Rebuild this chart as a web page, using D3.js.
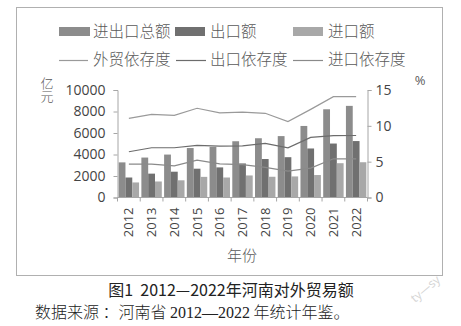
<!DOCTYPE html>
<html>
<head>
<meta charset="utf-8">
<script src="https://cdn.jsdelivr.net/npm/d3@7"></script>
<style>
  html, body { margin: 0; padding: 0; background: #fff; }
  svg { display: block; }
  text { font-family: "Noto Sans CJK SC", "Open Sans", sans-serif; }
</style>
</head>
<body>
<svg id="chart" width="461" height="326"></svg>
<script>
// ---- data ----
const years = ["2012","2013","2014","2015","2016","2017","2018","2019","2020","2021","2022"];
const totalTrade = [3267, 3715, 3994, 4600, 4714, 5233, 5512, 5711, 6655, 8208, 8524];
const exportTrade = [1860, 2220, 2400, 2680, 2800, 3170, 3580, 3750, 4560, 5020, 5250];
const importTrade = [1400, 1490, 1600, 1920, 1860, 2050, 1930, 1960, 2090, 3190, 3280];
const tradeDep = [11.05, 11.6, 11.45, 12.45, 11.8, 11.9, 11.75, 10.6, 12.3, 14.07, 14.07];
const exportDep = [6.38, 6.94, 6.94, 7.27, 7.17, 7.2, 7.55, 6.94, 8.39, 8.62, 8.65];
const importDep = [4.66, 4.66, 4.42, 5.22, 4.7, 4.6, 4.2, 3.68, 4.1, 5.4, 5.4];
const leftTicks = [0, 2000, 4000, 6000, 8000, 10000];
const rightTicks = [0, 5, 10, 15];
const barSeries = ["进出口总额", "出口额", "进口额"];
const lineSeries = ["外贸依存度", "出口依存度", "进口依存度"];

const barColors = ["#8c8c8c", "#707070", "#a8a8a8"];
const lineColors = ["#9a9a9a", "#6c6c6c", "#8a8a8a"];
const axisColor = "#a6a6a6";
const textColor = "#5a5a5a";

const svg = d3.select("#chart");

// frame
svg.append("rect").attr("x", 16.5).attr("y", 7.5).attr("width", 426).attr("height", 268)
  .attr("fill", "none").attr("stroke", "#b0b0b0").attr("stroke-width", 1);

const x0 = d3.scaleBand().domain(years).range([117.5, 367.5]).paddingInner(0).paddingOuter(0);
const x1 = d3.scaleBand().domain([0,1,2]).range([0, x0.bandwidth()]).paddingInner(0).paddingOuter(0.17);
const yL = d3.scaleLinear().domain([0, 10000]).range([197.5, 90]);
const yR = d3.scaleLinear().domain([0, 15]).range([197.5, 90]);

// bars
const barData = [totalTrade, exportTrade, importTrade];
const g = svg.append("g");
years.forEach((yr, i) => {
  barData.forEach((arr, s) => {
    g.append("rect")
      .attr("x", x0(yr) + x1(s))
      .attr("y", yL(arr[i]))
      .attr("width", x1.bandwidth())
      .attr("height", yL(0) - yL(arr[i]))
      .attr("fill", barColors[s]);
  });
});

// lines
const lineData = [tradeDep, exportDep, importDep];
const lineGen = d3.line().x((d, i) => x0(years[i]) + x0.bandwidth() / 2).y(d => yR(d));
lineData.forEach((arr, s) => {
  svg.append("path").attr("d", lineGen(arr)).attr("fill", "none")
    .attr("stroke", lineColors[s]).attr("stroke-width", 1.2);
});

// axes
const styleAxis = (sel) => {
  sel.selectAll("path, line").attr("stroke", axisColor);
  sel.selectAll("text").attr("fill", "#444").style("font-family", "'Open Sans', sans-serif");
};
svg.append("g").attr("transform", "translate(117.5,0)")
  .call(d3.axisLeft(yL).tickValues(leftTicks).tickSize(4).tickSizeOuter(4).tickFormat(d3.format("d")).tickPadding(8))
  .call(styleAxis)
  .call(s => s.selectAll("text").style("font-size", "14px"));

svg.append("g").attr("transform", "translate(367.5,0)")
  .call(d3.axisRight(yR).tickValues(rightTicks).tickSize(4).tickSizeOuter(4).tickPadding(4))
  .call(styleAxis)
  .call(s => s.selectAll("text").style("font-size", "14px"));

// bottom axis with ticks at band boundaries
const bx = svg.append("g").attr("transform", "translate(0,197.5)");
bx.append("line").attr("x1", 117.5).attr("x2", 367.5).attr("stroke", axisColor);
years.concat(["end"]).forEach((yr, i) => {
  const xp = i < years.length ? x0(yr) : x0.range()[1];
  bx.append("line").attr("x1", xp).attr("x2", xp).attr("y1", 0).attr("y2", 4).attr("stroke", axisColor);
});
years.forEach(yr => {
  bx.append("text")
    .attr("transform", `translate(${x0(yr) + x0.bandwidth() / 2 + 4.5},10) rotate(-90)`)
    .attr("text-anchor", "end")
    .style("font-family", "'Open Sans', sans-serif")
    .style("font-size", "13px")
    .attr("fill", "#444")
    .text(yr);
});

// axis titles (unit label written vertically)
svg.append("text").attr("x", 47).attr("y", 77)
  .style("writing-mode", "vertical-rl")
  .style("font-size", "13px").style("font-weight", 300).attr("fill", textColor).text("亿元");
svg.append("text").attr("x", 420).attr("y", 85).attr("text-anchor", "middle")
  .style("font-size", "13px").style("font-family", "'Open Sans', sans-serif").attr("fill", textColor).text("%");
svg.append("text").attr("x", 242).attr("y", 261).attr("text-anchor", "middle")
  .style("font-size", "15px").style("font-weight", 300).attr("fill", textColor).text("年份");

// legend
const legBarX = [[59, 90, 93], [175, 205, 210], [293, 323, 328]];
barSeries.forEach((name, s) => {
  svg.append("rect").attr("x", legBarX[s][0]).attr("y", 27).attr("width", legBarX[s][1] - legBarX[s][0])
    .attr("height", 9).attr("fill", barColors[s]);
  svg.append("text").attr("x", legBarX[s][2]).attr("y", 37)
    .style("font-size", "15.5px").style("font-weight", 300).attr("fill", textColor).text(name);
});
const legLineX = [[59, 88, 93], [176, 206, 210], [293, 323, 328]];
lineSeries.forEach((name, s) => {
  svg.append("line").attr("x1", legLineX[s][0]).attr("x2", legLineX[s][1]).attr("y1", 60.5).attr("y2", 60.5)
    .attr("stroke", lineColors[s]).attr("stroke-width", 1.2);
  svg.append("text").attr("x", legLineX[s][2]).attr("y", 65)
    .style("font-size", "15.5px").style("font-weight", 300).attr("fill", textColor).text(name);
});

// caption
svg.append("text").attr("x", 231).attr("y", 296).attr("text-anchor", "middle")
  .style("font-size", "16px").attr("fill", "#222").text("图1\u00a0\u00a02012—2022年河南对外贸易额");
const src = svg.append("text").attr("x", 35).attr("y", 318).style("font-size", "16px")
  .style("font-weight", 300).attr("fill", "#222");
src.append("tspan").text("数据来源\u00a0：河南省 ");
src.append("tspan").style("font-family", "'Liberation Serif', serif").text("2012—2022");
src.append("tspan").text(" 年统计年鉴。");

// watermark
svg.append("text").attr("transform", "translate(428,292) rotate(-40)").attr("text-anchor", "middle")
  .style("font-size", "12px").style("font-family", "'Open Sans', sans-serif").attr("fill", "#d4d4d4").text("ty—sy");
</script>
</body>
</html>
